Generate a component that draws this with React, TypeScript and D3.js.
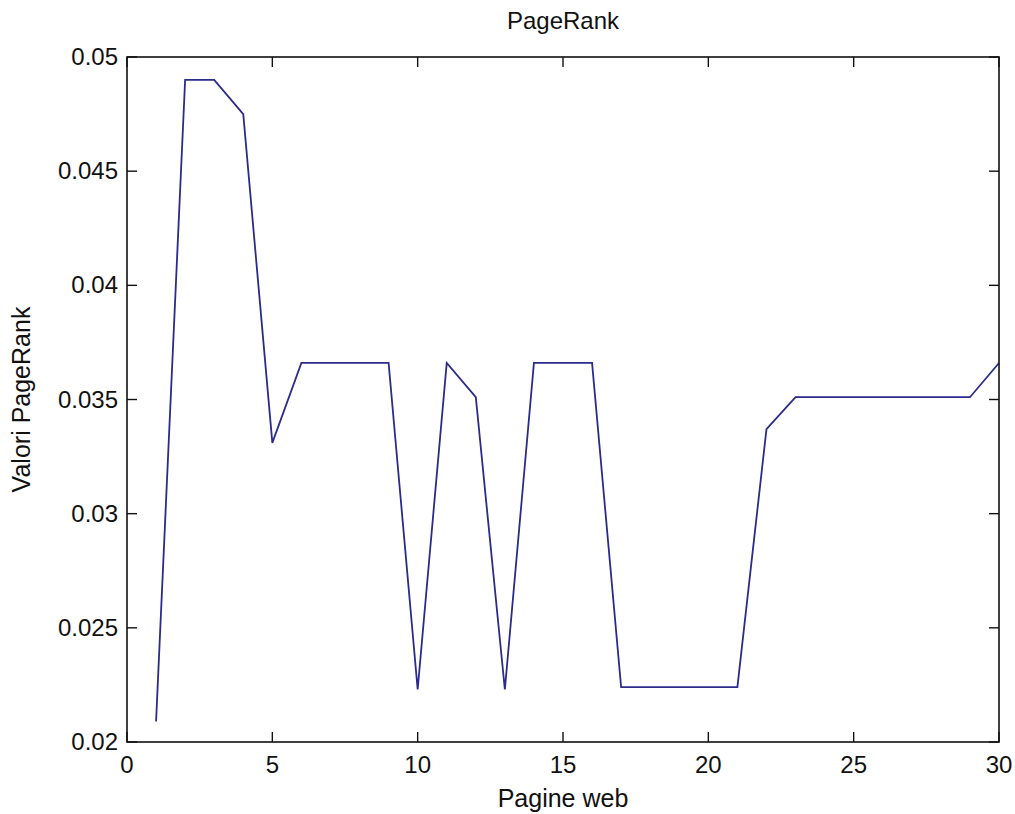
import React from "react";
import * as d3 from "d3";

const pages = [1,2,3,4,5,6,7,8,9,10,11,12,13,14,15,16,17,18,19,20,21,22,23,24,25,26,27,28,29,30];
const ranks = [0.0209,0.0490,0.0490,0.0475,0.0331,0.0366,0.0366,0.0366,0.0366,0.0223,0.0366,0.0351,0.0223,0.0366,0.0366,0.0366,0.0224,0.0224,0.0224,0.0224,0.0224,0.0337,0.0351,0.0351,0.0351,0.0351,0.0351,0.0351,0.0351,0.0366];
const xTicks = [0,5,10,15,20,25,30];
const yTicks = [0.02,0.025,0.03,0.035,0.04,0.045,0.05];
const yTickLabels = ["0.02","0.025","0.03","0.035","0.04","0.045","0.05"];

const W = 1015, H = 814;
const L = 127, R = 999, T = 57, B = 742;
const FONT = "'Liberation Sans', Arial, sans-serif";

export default function App() {
  const x = d3.scaleLinear().domain([0, 30]).range([L, R]);
  const y = d3.scaleLinear().domain([0.02, 0.05]).range([B, T]);
  const line = d3.line<number>().x((_, i) => x(pages[i])).y((d) => y(d));
  const tl = 10;
  return (
    <svg width={W} height={H} style={{ position: "absolute", left: 0, top: 0, background: "#fff" }}>
      <rect x={0} y={0} width={W} height={H} fill="#fff" />
      <path d={line(ranks) || ""} fill="none" stroke="#2b2b8c" strokeWidth={1.8} strokeLinejoin="miter" />
      <rect x={L} y={T} width={R - L} height={B - T} fill="none" stroke="#111" strokeWidth={1.6} />
      {xTicks.map((t) => (
        <g key={"x" + t}>
          <line x1={x(t)} x2={x(t)} y1={B} y2={B - tl} stroke="#111" strokeWidth={1.4} />
          <line x1={x(t)} x2={x(t)} y1={T} y2={T + tl} stroke="#111" strokeWidth={1.4} />
          <text x={x(t)} y={773} textAnchor="middle" fontFamily={FONT} fontSize={24} fill="#111">{t}</text>
        </g>
      ))}
      {yTicks.map((t, i) => (
        <g key={"y" + t}>
          <line x1={L} x2={L + tl} y1={y(t)} y2={y(t)} stroke="#111" strokeWidth={1.4} />
          <line x1={R} x2={R - tl} y1={y(t)} y2={y(t)} stroke="#111" strokeWidth={1.4} />
          <text x={118} y={y(t) + 8} textAnchor="end" fontFamily={FONT} fontSize={24} fill="#111">{yTickLabels[i]}</text>
        </g>
      ))}
      <text x={(L + R) / 2} y={29} textAnchor="middle" fontFamily={FONT} fontSize={24} fill="#111">PageRank</text>
      <text x={(L + R) / 2} y={807} textAnchor="middle" fontFamily={FONT} fontSize={25} fill="#111">Pagine web</text>
      <text transform={`translate(30,${(T + B) / 2}) rotate(-90)`} textAnchor="middle" fontFamily={FONT} fontSize={25} fill="#111">Valori PageRank</text>
    </svg>
  );
}
